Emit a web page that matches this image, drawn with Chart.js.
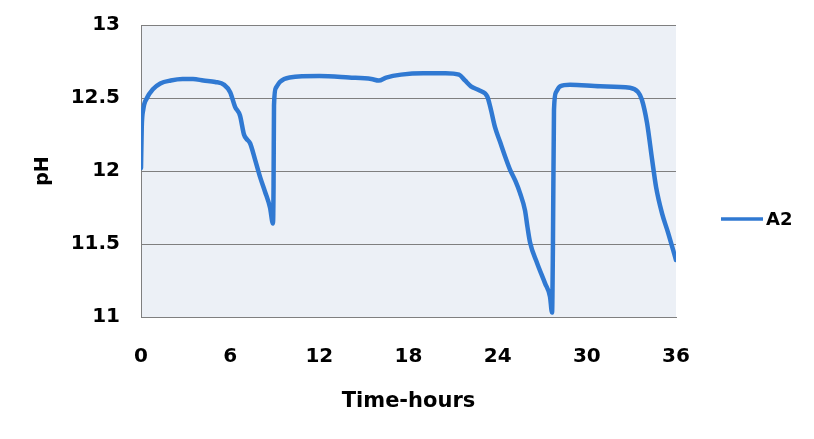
<!DOCTYPE html>
<html>
<head>
<meta charset="utf-8">
<script src="https://cdn.jsdelivr.net/npm/chart.js@4.4.0/dist/chart.umd.min.js"></script>
<style>
  html, body { margin: 0; padding: 0; background: #fff; }
  #wrap { width: 814px; height: 439px; }
</style>
</head>
<body>
<div id="wrap"><canvas id="chart" width="814" height="439"></canvas></div>
<script>
const SERIES_LABEL = 'A2';
const X_TICKS = [0, 6, 12, 18, 24, 30, 36];
const Y_TICKS = [11, 11.5, 12, 12.5, 13];

// readings: time (hours) and pH
const hours = [
  0.00, 0.05, 0.15, 0.40, 0.80, 1.30, 2.00, 2.80, 3.50, 4.20, 5.00, 5.60,
  6.00, 6.33, 6.66, 6.93, 7.10, 7.34, 7.67, 8.01, 8.34, 8.68, 8.88, 8.92,
  8.95, 9.08, 9.35, 10.0, 12.0, 14.0, 15.5, 16.0, 16.5, 17.5, 19.0, 20.5,
  21.4, 21.8, 22.2, 22.8, 23.3, 23.5, 23.82, 24.16, 24.5, 24.83, 25.2, 25.5,
  25.84, 26.0, 26.18, 26.65, 27.19, 27.52, 27.66, 27.72, 27.79, 27.93, 28.2, 28.87,
  30.9, 32.9, 33.45, 33.7, 34.05, 34.39, 34.66, 35.06, 35.46, 36.0
];
const ph = [
  12.02, 12.30, 12.42, 12.50, 12.56, 12.60, 12.62, 12.63, 12.63, 12.62, 12.61, 12.59,
  12.54, 12.44, 12.38, 12.25, 12.22, 12.19, 12.08, 11.96, 11.86, 11.75, 11.64, 11.90,
  12.45, 12.57, 12.61, 12.64, 12.65, 12.64, 12.63, 12.62, 12.64, 12.66, 12.67, 12.67,
  12.66, 12.62, 12.58, 12.55, 12.51, 12.44, 12.30, 12.20, 12.10, 12.01, 11.93, 11.85,
  11.73, 11.62, 11.51, 11.37, 11.23, 11.14, 11.03, 11.50, 12.42, 12.54, 12.58, 12.59,
  12.58, 12.57, 12.54, 12.49, 12.33, 12.08, 11.89, 11.71, 11.58, 11.39
];

const LINE_COLOR = '#3079d2';
const FONT = 'DejaVu Sans';

const plotBg = {
  id: 'plotBg',
  beforeDraw(chart) {
    const { ctx, chartArea: a } = chart;
    ctx.save();
    ctx.fillStyle = '#ecf0f6';
    ctx.fillRect(a.left, a.top, a.right - a.left, a.bottom - a.top);
    ctx.restore();
  }
};

// simple legend on the right, like the original
const sideLegend = {
  id: 'sideLegend',
  afterDraw(chart) {
    const { ctx, chartArea: a } = chart;
    const y = (a.top + a.bottom) / 2 + 48;
    const x0 = a.right + 45;
    ctx.save();
    ctx.strokeStyle = LINE_COLOR;
    ctx.lineWidth = 3.5;
    ctx.beginPath();
    ctx.moveTo(x0, y);
    ctx.lineTo(x0 + 42, y);
    ctx.stroke();
    ctx.fillStyle = '#000';
    ctx.font = 'bold 18px "' + FONT + '"';
    ctx.textBaseline = 'middle';
    ctx.fillText(chart.data.datasets[0].label, x0 + 45, y + 1);
    ctx.restore();
  }
};

function noEdgePadding(s) {
  s.paddingTop = 0;
  s.paddingBottom = 0;
  s.paddingLeft = 0;
  s.paddingRight = 0;
}

new Chart(document.getElementById('chart'), {
  type: 'line',
  data: {
    datasets: [{
      label: SERIES_LABEL,
      data: hours.map((h, i) => ({ x: h, y: ph[i] })),
      borderColor: LINE_COLOR,
      borderWidth: 4.5,
      pointRadius: 0,
      fill: false,
      cubicInterpolationMode: 'monotone',
      borderCapStyle: 'round',
      borderJoinStyle: 'round'
    }]
  },
  options: {
    responsive: false,
    animation: false,
    layout: { padding: { top: 25, right: 138, left: 0, bottom: 0 } },
    plugins: { legend: { display: false }, tooltip: { enabled: false } },
    scales: {
      x: {
        type: 'linear',
        min: X_TICKS[0],
        max: X_TICKS[X_TICKS.length - 1],
        afterBuildTicks: s => { s.ticks = X_TICKS.map(v => ({ value: v })); },
        afterFit: s => { s.height = 122; noEdgePadding(s); },
        ticks: { color: '#000', padding: 28, font: { family: FONT, size: 20, weight: 'bold' } },
        grid: { display: false, drawTicks: false },
        border: { display: true, color: '#7f7f7f', width: 1 },
        title: {
          display: true, text: 'Time-hours', color: '#000',
          font: { family: FONT, size: 21, weight: 'bold' }, padding: { top: 0, bottom: 25 }
        }
      },
      y: {
        min: Y_TICKS[0],
        max: Y_TICKS[Y_TICKS.length - 1],
        afterBuildTicks: s => { s.ticks = Y_TICKS.map(v => ({ value: v })); },
        afterFit: s => { s.width = 141; noEdgePadding(s); },
        ticks: {
          color: '#000', padding: 21, callback: v => String(v),
          font: { family: FONT, size: 20, weight: 'bold' }
        },
        grid: { color: '#7f7f7f', lineWidth: 1, drawTicks: false },
        border: { display: true, color: '#7f7f7f', width: 1 },
        title: {
          display: true, text: 'pH', color: '#000',
          font: { family: FONT, size: 19, weight: 'bold' }, padding: { top: 32, bottom: 0 }
        }
      }
    }
  },
  plugins: [plotBg, sideLegend]
});
</script>
</body>
</html>
